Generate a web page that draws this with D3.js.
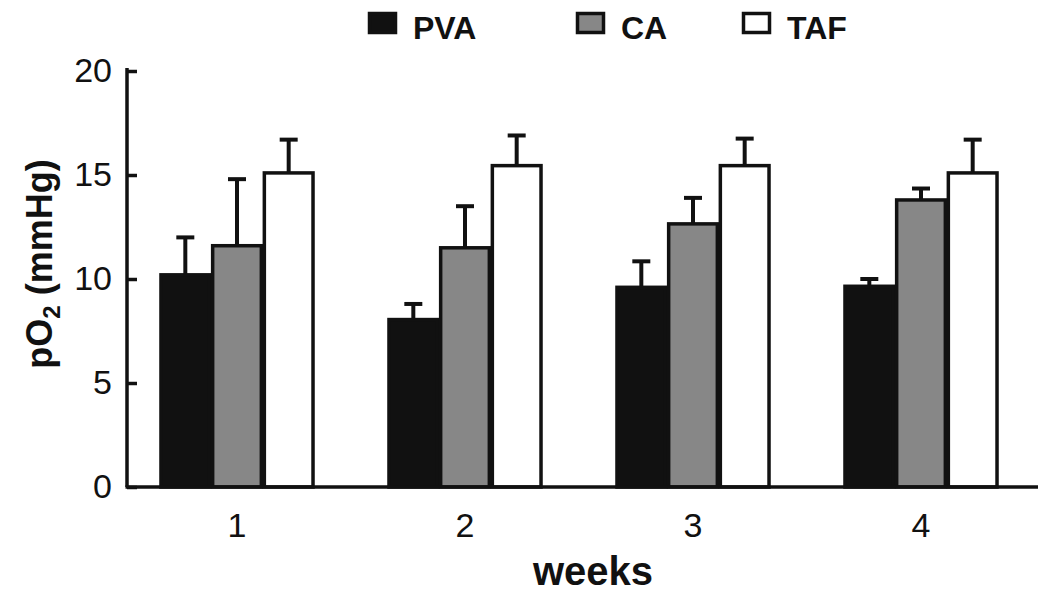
<!DOCTYPE html>
<html>
<head>
<meta charset="utf-8">
<script src="https://cdn.jsdelivr.net/npm/d3@7"></script>
<style>
  body { margin: 0; background: #fff; }
  svg { display: block; font-family: "Liberation Sans", Arial, sans-serif; }
</style>
</head>
<body>
<div id="chart"></div>
<script>
// data
const weeks = ["1", "2", "3", "4"];
const series = ["PVA", "CA", "TAF"];
const pva = [10.2, 8.05, 9.6, 9.65];
const ca = [11.6, 11.5, 12.65, 13.8];
const taf = [15.1, 15.45, 15.45, 15.1];
const pvaErr = [1.8, 0.75, 1.25, 0.35];
const caErr = [3.2, 2.0, 1.25, 0.55];
const tafErr = [1.6, 1.45, 1.3, 1.6];
const yTicks = [0, 5, 10, 15, 20];

const colors = { PVA: "#111111", CA: "#878787", TAF: "#ffffff" };
const values = { PVA: pva, CA: ca, TAF: taf };
const errors = { PVA: pvaErr, CA: caErr, TAF: tafErr };

const width = 1050, height = 602;
const margin = { top: 71, right: 12, bottom: 115, left: 127 };

const svg = d3.select("#chart")
    .append("svg")
    .attr("width", width)
    .attr("height", height);

const x = d3.scaleBand()
    .domain(weeks)
    .range([123, 1035])
    .paddingInner(0.32)
    .paddingOuter(0.16);

const xSub = d3.scaleBand()
    .domain(series)
    .range([0, x.bandwidth()]);

const y = d3.scaleLinear()
    .domain([0, 20])
    .range([height - margin.bottom, margin.top]);

// rows: one per bar
const rows = [];
weeks.forEach((w, i) => {
    series.forEach(s => {
        rows.push({ week: w, series: s, value: values[s][i], err: errors[s][i] });
    });
});

// error bars (drawn first, bars cover the lower part)
const eb = svg.append("g").selectAll("g")
    .data(rows)
    .enter().append("g")
    .attr("transform", d => `translate(${x(d.week) + xSub(d.series) + xSub.bandwidth() / 2},0)`);

eb.append("line")
    .attr("y1", d => y(d.value))
    .attr("y2", d => y(d.value + d.err))
    .attr("stroke", "#111")
    .attr("stroke-width", 4);

eb.append("line")
    .attr("x1", -9)
    .attr("x2", 9)
    .attr("y1", d => y(d.value + d.err))
    .attr("y2", d => y(d.value + d.err))
    .attr("stroke", "#111")
    .attr("stroke-width", 4);

// bars
svg.append("g").selectAll("rect")
    .data(rows)
    .enter().append("rect")
    .attr("x", d => x(d.week) + xSub(d.series) + 1.5)
    .attr("y", d => y(d.value))
    .attr("width", xSub.bandwidth() - 3)
    .attr("height", d => y(0) - y(d.value))
    .attr("fill", d => colors[d.series])
    .attr("stroke", "#111")
    .attr("stroke-width", 3.5);

// y axis, ticks pointing inward
const yAxis = svg.append("g")
    .attr("transform", `translate(${margin.left},0)`)
    .call(d3.axisLeft(y).tickValues(yTicks).tickSize(-10).tickSizeOuter(0).tickPadding(15));

yAxis.select(".domain")
    .attr("d", `M0,${margin.top - 3}V${y(0)}`)
    .attr("stroke", "#111")
    .attr("stroke-width", 3.5);
yAxis.selectAll(".tick line")
    .attr("stroke", "#111")
    .attr("stroke-width", 3.5);
yAxis.selectAll("text")
    .attr("font-size", 34)
    .attr("fill", "#111");

// x axis: plain line plus labels
const xAxis = svg.append("g")
    .attr("transform", `translate(0,${y(0)})`)
    .call(d3.axisBottom(x).tickSize(0).tickPadding(26));

xAxis.select(".domain").remove();
xAxis.selectAll("text")
    .attr("font-size", 34)
    .attr("fill", "#111");

svg.append("line")
    .attr("x1", margin.left - 1.5)
    .attr("x2", 1038)
    .attr("y1", y(0))
    .attr("y2", y(0))
    .attr("stroke", "#111")
    .attr("stroke-width", 3.5);

// axis titles
svg.append("text")
    .attr("x", 593)
    .attr("y", 585)
    .attr("text-anchor", "middle")
    .attr("font-size", 40)
    .attr("font-weight", "bold")
    .attr("fill", "#111")
    .text("weeks");

const yTitle = svg.append("text")
    .attr("transform", "translate(52,264) rotate(-90)")
    .attr("text-anchor", "middle")
    .attr("font-size", 36)
    .attr("font-weight", "bold")
    .attr("fill", "#111");
yTitle.append("tspan").text("pO");
yTitle.append("tspan").attr("font-size", 24).attr("dy", 8).text("2");
yTitle.append("tspan").attr("dy", -8).text(" (mmHg)");

// legend
const legendX = [368, 576, 742];
const legend = svg.append("g").selectAll("g")
    .data(series)
    .enter().append("g")
    .attr("transform", (d, i) => `translate(${legendX[i]},0)`);

legend.append("rect")
    .attr("x", 1.5)
    .attr("y", 13.5)
    .attr("width", 26)
    .attr("height", 19)
    .attr("fill", d => colors[d])
    .attr("stroke", "#111")
    .attr("stroke-width", 3.5);

legend.append("text")
    .attr("x", 45)
    .attr("y", 39)
    .attr("font-size", 32)
    .attr("font-weight", "bold")
    .attr("fill", "#111")
    .text(d => d);
</script>
</body>
</html>
